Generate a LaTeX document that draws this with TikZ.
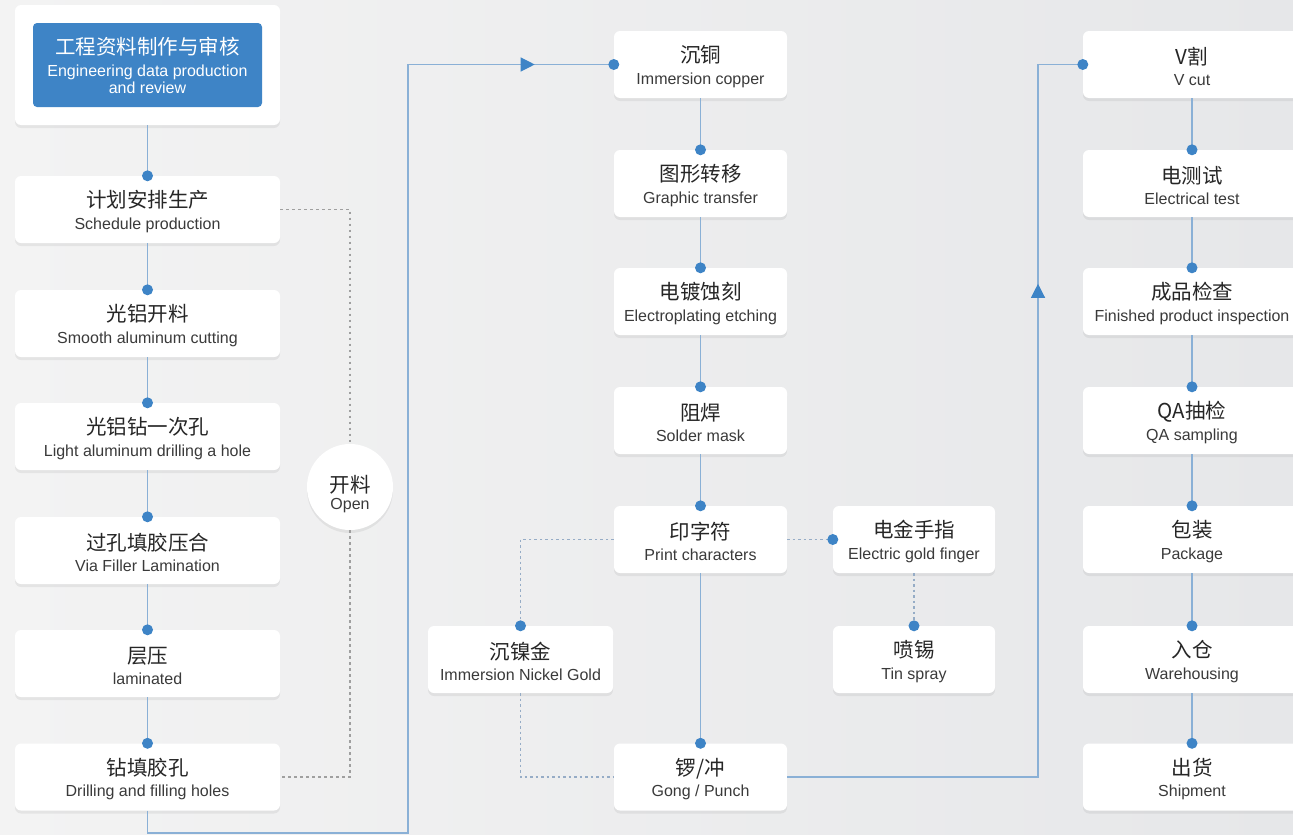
\documentclass[tikz,border=0pt]{standalone}
\usepackage{fontspec}
\setmainfont{Liberation Sans}
\newfontfamily\cjk{Noto Sans CJK SC}
\usetikzlibrary{shadows, calc, arrows.meta, decorations.markings}
\usepackage{xcolor}
\definecolor{bgleft}{RGB}{243,243,243}
\definecolor{bgright}{RGB}{230,231,233}
\definecolor{flowblue}{RGB}{62,132,198}
\definecolor{lineblue}{RGB}{138,176,214}
\definecolor{dashblue}{RGB}{150,172,198}
\definecolor{txtzh}{RGB}{38,38,38}
\definecolor{txten}{RGB}{58,58,58}

\newcommand{\zhen}[2]{{\cjk\fontsize{20.5}{22}\selectfont\color{txtzh}#1}\\{\color{txten}#2}}

\begin{document}
\begin{tikzpicture}[x=1pt, y=-1pt, % 1 px = 1 pt
  stepbox/.style={fill=white, rounded corners=6pt, minimum width=265pt, minimum height=67pt,
    inner sep=0pt, align=center, font=\fontsize{16}{21.5}\selectfont, text height=43pt,
    drop shadow={shadow xshift=0pt, shadow yshift=-3pt, opacity=0.06, fill=black}},
  dot/.style={circle, fill=flowblue, inner sep=0pt, minimum size=11pt},
  flow/.style={draw=lineblue, line width=1.2pt},
  branch/.style={draw=dashblue, line width=1.1pt, dash pattern=on 2.5pt off 3pt},
  openloop/.style={draw=gray!75, line width=1.3pt, dash pattern=on 2.5pt off 3.5pt},
]

\useasboundingbox (0,0) rectangle (1293,835);
\clip (0,0) rectangle (1293,835);
\fill[left color=bgleft, right color=bgright] (0,0) rectangle (1293,835);

% left column
\node[stepbox, minimum height=120pt, text height=0pt] (headwrap) at (147.5,65) {};
\node[fill=flowblue, rounded corners=4pt, minimum width=229pt, minimum height=84pt, inner sep=0pt,
  text=white, align=center, font=\fontsize{16}{17}\selectfont] (head) at (147.5,65)
  {{\cjk\fontsize{20.5}{22}\selectfont 工程资料制作与审核}\\[5pt]Engineering data production\\and review};
\node[stepbox] (plan) at (147.5,209.5) {\zhen{计划安排生产}{Schedule production}};
\node[stepbox] (cut) at (147.5,323.5) {\zhen{光铝开料}{Smooth aluminum cutting}};
\node[stepbox] (hole) at (147.5,436.5) {\zhen{光铝钻一次孔}{Light aluminum drilling a hole}};
\node[stepbox] (via) at (147.5,550.5) {\zhen{过孔填胶压合}{Via Filler Lamination}};
\node[stepbox] (lam) at (147.5,663.5) {\zhen{层压}{laminated}};
\node[stepbox] (drill) at (147.5,777) {\zhen{钻填胶孔}{Drilling and filling holes}};
\node[stepbox, circle, minimum size=86pt, text height=49pt, font=\fontsize{16}{17}\selectfont] (open) at (350,487)
  {{\cjk\fontsize{20.5}{22}\selectfont\color{txtzh}开料}\\{\color{txten}Open}};

% middle column
\node[stepbox, minimum width=173pt] (copper) at (700.5,64.5) {\zhen{沉铜}{Immersion copper}};
\node[stepbox, minimum width=173pt] (graphic) at (700.5,183.5) {\zhen{图形转移}{Graphic transfer}};
\node[stepbox, minimum width=173pt] (etch) at (700.5,301.5) {\zhen{电镀蚀刻}{Electroplating etching}};
\node[stepbox, minimum width=173pt] (mask) at (700.5,420.5) {\zhen{阻焊}{Solder mask}};
\node[stepbox, minimum width=173pt] (print) at (700.5,539.5) {\zhen{印字符}{Print characters}};
\node[stepbox, minimum width=173pt] (gong) at (700.5,777) {\zhen{锣/冲}{Gong / Punch}};
\node[stepbox, minimum width=185pt] (nickel) at (520.5,659.5) {\zhen{沉镍金}{Immersion Nickel Gold}};
\node[stepbox, minimum width=162pt] (finger) at (914,539.5) {\zhen{电金手指}{Electric gold finger}};
\node[stepbox, minimum width=162pt] (tin) at (914,659.5) {\zhen{喷锡}{Tin spray}};

% right column
\node[stepbox, minimum width=218pt] (vcut) at (1192,64.5) {\zhen{V割}{V cut}};
\node[stepbox, minimum width=218pt] (etest) at (1192,183.5) {\zhen{电测试}{Electrical test}};
\node[stepbox, minimum width=218pt] (fqc) at (1192,301.5) {\zhen{成品检查}{Finished product inspection}};
\node[stepbox, minimum width=218pt] (qa) at (1192,420.5) {\zhen{QA抽检}{QA sampling}};
\node[stepbox, minimum width=218pt] (pack) at (1192,539.5) {\zhen{包装}{Package}};
\node[stepbox, minimum width=218pt] (store) at (1192,659.5) {\zhen{入仓}{Warehousing}};
\node[stepbox, minimum width=218pt] (ship) at (1192,777) {\zhen{出货}{Shipment}};

% solid flow
\draw[flow] (headwrap.south) -- (plan.north);
\draw[flow] (plan.south) -- (cut.north);
\draw[flow] (cut.south) -- (hole.north);
\draw[flow] (hole.south) -- (via.north);
\draw[flow] (via.south) -- (lam.north);
\draw[flow] (lam.south) -- (drill.north);
\coordinate (bendA) at (408,833);
\draw[flow, postaction={decorate}, decoration={markings,
  mark=at position 1178pt with {\arrow{Triangle[length=14pt, width=14pt, color=flowblue]}}}]
  (drill.south) |- (bendA) |- (copper.west);
\draw[flow] (copper.south) -- (graphic.north);
\draw[flow] (graphic.south) -- (etch.north);
\draw[flow] (etch.south) -- (mask.north);
\draw[flow] (mask.south) -- (print.north);
\draw[flow] (print.south) -- (gong.north);
\coordinate (bendB) at (1038,64.5);
\draw[flow, postaction={decorate}, decoration={markings,
  mark=at position 744pt with {\arrow{Triangle[length=14pt, width=14pt, color=flowblue]}}}]
  (gong.east) -| (bendB) -- (vcut.west);
\draw[flow] (vcut.south) -- (etest.north);
\draw[flow] (etest.south) -- (fqc.north);
\draw[flow] (fqc.south) -- (qa.north);
\draw[flow] (qa.south) -- (pack.north);
\draw[flow] (pack.south) -- (store.north);
\draw[flow] (store.south) -- (ship.north);

% dotted branches
\draw[openloop] (plan.east) -| (open.north);
\draw[openloop] (open.south) |- (drill.east);
\draw[branch] (print.west) -| (nickel.north);
\draw[branch] (nickel.south) |- (gong.west);
\draw[branch] (print.east) -- (finger.west);
\draw[branch] (finger.south) -- (tin.north);

% dots
\foreach \n in {plan, cut, hole, via, lam, drill, graphic, etch, mask, print, gong, nickel, tin,
  etest, fqc, qa, pack, store, ship}
  \node[dot] (dot-\n) at (\n.north) {};
\foreach \n in {copper, vcut, finger}
  \node[dot] (dotw-\n) at (\n.west) {};

\end{tikzpicture}
\end{document}
